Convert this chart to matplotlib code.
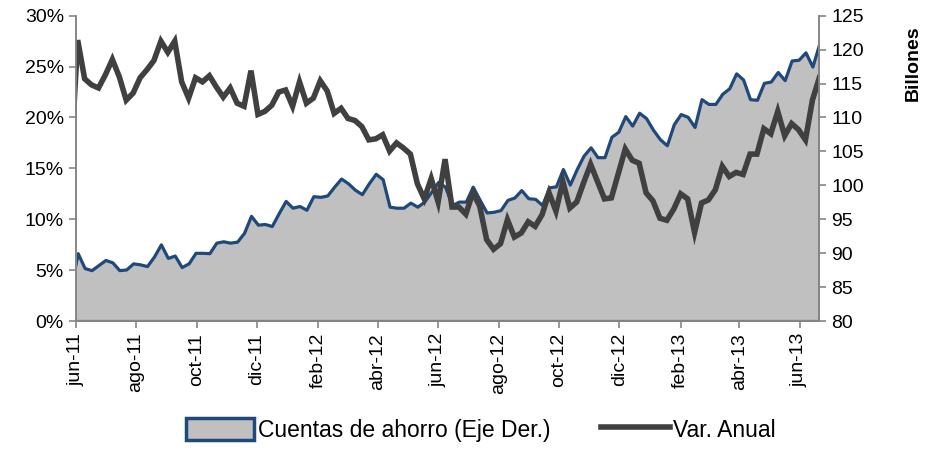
import pandas as pd
import matplotlib
matplotlib.use("Agg")
import matplotlib.pyplot as plt
from matplotlib.patches import Patch
from matplotlib.lines import Line2D
from matplotlib.ticker import FuncFormatter, MultipleLocator

plt.rcParams["font.family"] = ["Liberation Sans Narrow", "Liberation Sans", "DejaVu Sans"]

# weekly data, first point falls just before the axis start
fechas = pd.date_range("2011-05-27", periods=109, freq="7D")

# Var. Anual (%), left axis
var_anual = [
    15.5,
    27.6, 23.8, 23.2, 22.9, 24.2, 25.7, 24.0, 21.7, 22.4, 23.9,
    24.7, 25.6, 27.5, 26.4, 27.5, 23.5, 21.9, 23.9, 23.5, 24.1,
    23.0, 22.0, 22.9, 21.4, 21.1, 24.6, 20.3, 20.6, 21.2, 22.5,
    22.7, 21.1, 23.5, 21.4, 21.9, 23.6, 22.6, 20.4, 20.9, 19.9,
    19.7, 19.1, 17.8, 17.9, 18.3, 16.7, 17.5, 17.0, 16.4, 13.5,
    12.0, 14.0, 11.7, 15.9, 11.2, 11.2, 10.5, 12.6, 11.3, 8.0,
    7.05, 7.6, 9.95, 8.25, 8.65, 9.75, 9.3, 10.45, 12.6, 10.8,
    13.7, 11.1, 11.7, 13.6, 15.4, 13.7, 12.0, 12.1, 14.5, 16.9,
    15.8, 15.5, 12.6, 11.8, 10.1, 9.9, 11.0, 12.5, 12.0, 8.7,
    11.6, 11.9, 12.9, 15.2, 14.2, 14.6, 14.4, 16.4, 16.4, 18.9,
    18.4, 20.6, 18.2, 19.4, 18.8, 17.8, 21.7, 23.9,
]

# Cuentas de ahorro (billones), right axis
ahorro = [
    85.0,
    90.0, 87.8, 87.5, 88.25, 89.0, 88.65, 87.5, 87.6, 88.5, 88.35,
    88.1, 89.5, 91.3, 89.3, 89.65, 87.95, 88.5, 90.05, 90.05, 90.0,
    91.55, 91.75, 91.55, 91.7, 93.0, 95.5, 94.2, 94.3, 94.0, 95.9,
    97.7, 96.7, 96.95, 96.4, 98.4, 98.3, 98.5, 99.8, 101.0, 100.3,
    99.35, 98.7, 100.3, 101.7, 100.9, 96.85, 96.7, 96.7, 97.45, 96.85,
    97.6, 99.05, 100.5, 99.8, 97.1, 97.6, 97.6, 99.8, 97.85, 96.0,
    96.1, 96.35, 97.85, 98.2, 99.3, 98.1, 98.0, 97.1, 99.7, 99.85,
    102.4, 100.1, 102.4, 104.4, 105.6, 104.15, 104.15, 107.15, 107.9, 110.2,
    108.8, 110.7, 109.9, 108.2, 106.8, 105.9, 109.0, 110.5, 110.1, 108.6,
    112.7, 112.0, 112.0, 113.5, 114.3, 116.5, 115.6, 112.7, 112.6, 115.1,
    115.3, 116.7, 115.5, 118.4, 118.5, 119.6, 117.5, 120.9,
]

meses = ["jun-11", "ago-11", "oct-11", "dic-11", "feb-12", "abr-12", "jun-12",
         "ago-12", "oct-12", "dic-12", "feb-13", "abr-13", "jun-13"]
ticks = pd.date_range("2011-06-01", periods=len(meses), freq="2MS")

gris = "#868686"
azul = "#1F497D"
oscuro = "#404040"

fig = plt.figure(figsize=(9.28, 4.51), dpi=100)
ax = fig.add_axes([0.0816, 0.2882, 0.8013, 0.677])
ax2 = ax.twinx()

# area behind, line on top
ax2.set_zorder(ax.get_zorder() - 1)
ax.patch.set_visible(False)

ax2.fill_between(fechas, 80, ahorro, facecolor="#C0C0C0", edgecolor=azul, linewidth=2.3)
ax.plot(fechas, [v / 100 for v in var_anual], color=oscuro, linewidth=4, solid_joinstyle="miter")

ax.set_xlim(pd.Timestamp("2011-06-01"), pd.Timestamp("2013-06-21"))
ax.set_ylim(0, 0.30)
ax2.set_ylim(80, 125)
ax.yaxis.set_major_locator(MultipleLocator(0.05))
ax.yaxis.set_major_formatter(FuncFormatter(lambda v, p: f"{v * 100:.0f}%"))
ax2.yaxis.set_major_locator(MultipleLocator(5))

ax.set_xticks(ticks)
ax.set_xticklabels(meses, rotation=90, fontsize=14)

for a in (ax, ax2):
    for s in a.spines.values():
        s.set_color(gris)
        s.set_linewidth(1.2)
    a.spines["top"].set_visible(False)
    a.tick_params(colors=gris, labelcolor="black", length=5, width=1.2, labelsize=14)

ax2.set_ylabel("Billones", fontsize=14, fontweight="bold")
ax2.yaxis.set_label_coords(1.115, 0.845)

handles = [
    Patch(facecolor="#C0C0C0", edgecolor=azul, linewidth=2.5),
    Line2D([0], [0], color=oscuro, linewidth=4),
]
fig.legend(handles, ["Cuentas de ahorro (Eje Der.)", "Var. Anual"], loc="lower center",
           bbox_to_anchor=(0.518, -0.025), ncol=2, frameon=False, fontsize=16.5,
           handlelength=3.0, handleheight=1.1, handletextpad=0.15, columnspacing=2.2)

fig.savefig("out.png", dpi=100)
